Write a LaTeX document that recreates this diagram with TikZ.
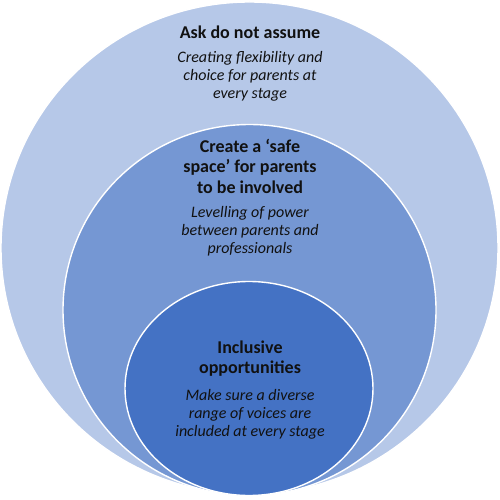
\documentclass[tikz,border=0pt]{standalone}
\usepackage{fontspec}
\setmainfont{Carlito}
\definecolor{outerc}{HTML}{B6C8E8}
\definecolor{midc}{HTML}{7597D3}
\definecolor{innerc}{HTML}{4472C4}
\definecolor{txt}{HTML}{111111}
\tikzset{
  ring/.style={draw=white, line width=1.4pt},
  titletext/.style={font=\fontsize{18}{20.5}\selectfont\bfseries, text=txt, align=center, inner sep=0pt},
  subtext/.style={font=\fontsize{16}{18}\selectfont\itshape, text=txt, align=center, inner sep=0pt},
}
\begin{document}
\begin{tikzpicture}[x=1pt,y=-1pt]
\useasboundingbox (0,0) rectangle (500,500);
\fill[white] (0,0) rectangle (500,500);
\filldraw[ring, fill=outerc] (249.5,248) ellipse [x radius=248.5, y radius=246];
\filldraw[ring, fill=midc] (249.5,310) ellipse [x radius=186.5, y radius=185.5];
\filldraw[ring, fill=innerc] (249,388.5) ellipse [x radius=124, y radius=107];
\node[titletext] (t1) at (250,32) {Ask do not assume};
\node[subtext] (s1) at (250,76) {Creating flexibility and\\choice for parents at\\every stage};
\node[titletext] (t2) at (250,166) {Create a ‘safe\\space’ for parents\\to be involved};
\node[subtext] (s2) at (250,231) {Levelling of power\\between parents and\\professionals};
\node[titletext] (t3) at (250,358.5) {Inclusive\\opportunities};
\node[subtext] (s3) at (250,414) {Make sure a diverse\\range of voices are\\included at every stage};
\end{tikzpicture}
\end{document}
